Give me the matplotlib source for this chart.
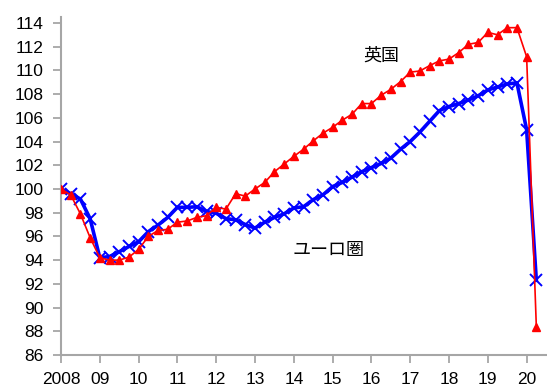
import numpy as np
import matplotlib
matplotlib.use('Agg')
import matplotlib.pyplot as plt

plt.rcParams['font.family'] = ['Liberation Sans', 'Noto Sans CJK JP']

# quarterly index, 2008Q1 = 100 (2008Q1 .. 2020Q2)
uk = [100.0, 99.5, 97.9, 95.9, 94.2, 94.0, 94.0, 94.25, 94.9, 96.0,
      96.5, 96.6, 97.2, 97.3, 97.6, 97.75, 98.45, 98.3, 99.6, 99.4,
      100.0, 100.55, 101.45, 102.1, 102.75, 103.35, 104.05, 104.7, 105.2, 105.8,
      106.3, 107.2, 107.2, 107.9, 108.4, 109.05, 109.85, 109.95, 110.4, 110.8,
      110.95, 111.5, 112.2, 112.35, 113.2, 113.0, 113.6, 113.6, 111.15, 88.4]
euro = [100.0, 99.6, 99.15, 97.5, 94.2, 94.3, 94.7, 95.15, 95.55, 96.4,
        96.95, 97.6, 98.45, 98.45, 98.5, 98.1, 97.95, 97.5, 97.4, 97.0,
        96.7, 97.2, 97.6, 97.9, 98.4, 98.5, 99.1, 99.5, 100.2, 100.55,
        101.0, 101.45, 101.8, 102.15, 102.6, 103.35, 104.0, 104.8, 105.7, 106.6,
        106.95, 107.2, 107.5, 107.85, 108.35, 108.6, 108.85, 108.95, 105.0, 92.3]
year_labels = ['2008', '09', '10', '11', '12', '13', '14', '15', '16', '17', '18', '19', '20']

x = np.arange(len(uk))
grey = '#a6a6a6'

fig = plt.figure(figsize=(5.47, 3.89), dpi=100)
ax = fig.add_axes([61 / 547, 34 / 389, 486 / 547, 338 / 389])

ax.plot(x, euro, color='#0000ff', lw=2.6, marker='x', ms=9, mew=1.4, zorder=2)
ax.plot(x, uk, color='#ff0000', lw=1.2, marker='^', ms=5.5, zorder=3)

ax.set_xlim(0, 50.1)
ax.set_ylim(86, 114.5)
ax.set_yticks(np.arange(86, 115, 2))
ax.set_xticks(np.arange(0, len(year_labels) * 4, 4))
ax.set_xticklabels(year_labels)

for side in ['top', 'right']:
    ax.spines[side].set_visible(False)
for side in ['left', 'bottom']:
    ax.spines[side].set_color(grey)
    ax.spines[side].set_linewidth(1.5)
ax.tick_params(axis='both', colors=grey, labelcolor='black', labelsize=12.5,
               length=5.5, width=1.3, direction='out', pad=7)

# series names placed in pixel coordinates
ax.text(381, 389 - 56, '英国', transform=None, fontsize=13, ha='center', va='center',
        family=['Noto Sans CJK JP'])
ax.text(329, 389 - 250, 'ユーロ圏', transform=None, fontsize=13, ha='center', va='center',
        family=['Noto Sans CJK JP'])

fig.savefig('out.png', dpi=100)
